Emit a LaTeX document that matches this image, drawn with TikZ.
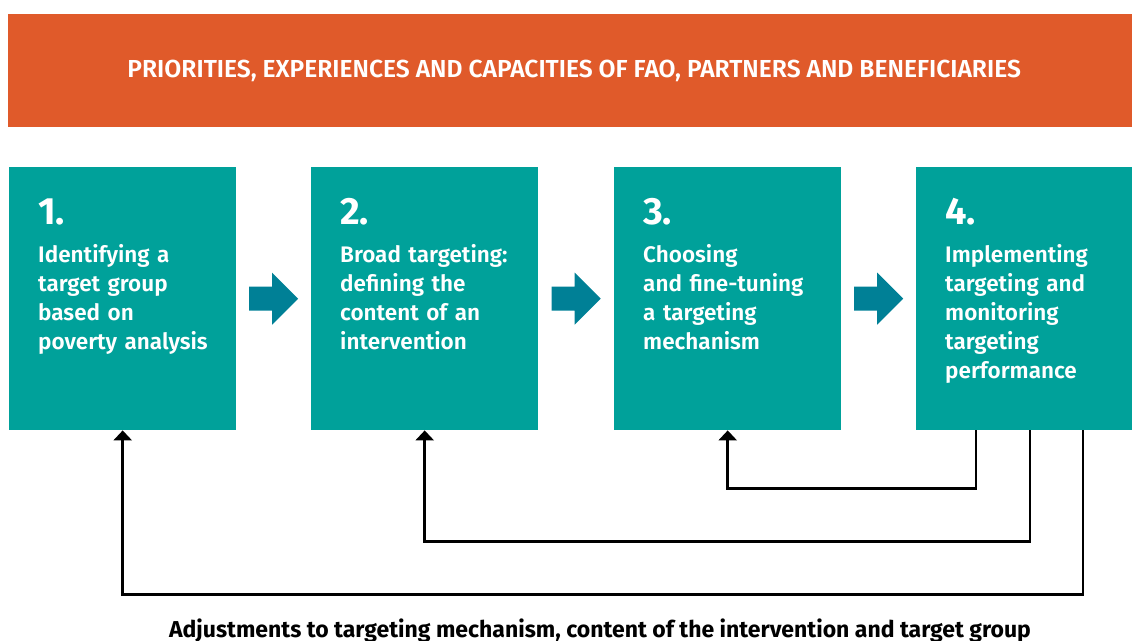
\documentclass[tikz,border=0pt]{standalone}
\usepackage{fontspec}
\setmainfont{Fira Sans}[UprightFont=* SemiBold, BoldFont=* Bold]
\usepackage{xcolor}
\usetikzlibrary{arrows.meta,calc}

\definecolor{faoOrange}{RGB}{224,90,42}
\definecolor{faoTeal}{RGB}{0,161,154}
\definecolor{faoBlue}{RGB}{0,128,150}

\begin{document}
\begin{tikzpicture}[
        %Environment config
        x=1pt, y=-1pt,
        %Environment styles
        BandCfg/.style={
            fill=faoOrange, text=white, anchor=north west,
            minimum width=1132pt, minimum height=113pt, inner sep=0pt,
            font=\fontsize{24.6}{28}\selectfont
        },
        BoxCfg/.style={
            fill=faoTeal, anchor=north west,
            minimum width=227pt, minimum height=263pt, inner sep=0pt
        },
        NumCfg/.style={
            text=white, anchor=base west, inner sep=0pt,
            font=\fontsize{38}{40}\bfseries
        },
        TxtCfg/.style={
            text=white, anchor=base west, inner sep=0pt,
            text width=195pt, align=left,
            font=\fontsize{22.5}{29}\selectfont
        },
        StepArrowCfg/.style={fill=faoBlue},
        FeedbackCfg/.style={
            line width=2.6pt, -{Triangle[width=18pt,length=10pt]}
        }
    ]
    \useasboundingbox (0,0) rectangle (1132,640);

    %Top band
    \path (8,14) node[BandCfg](band){PRIORITIES, EXPERIENCES AND CAPACITIES OF FAO, PARTNERS AND BENEFICIARIES};

    %Step boxes
    \path
        (9,167) node[BoxCfg](b1){}
        (311,167) node[BoxCfg](b2){}
        (614,167) node[BoxCfg](b3){}
        (916,167) node[BoxCfg](b4){};

    \foreach \b/\n/\t in {
            b1/1./{Identifying a\\target group\\based on\\poverty analysis},
            b2/2./{Broad targeting:\\defining the\\content of an\\intervention},
            b3/3./{Choosing\\and fine-tuning\\a targeting\\mechanism},
            b4/4./{Implementing\\targeting and\\monitoring\\targeting\\performance}}{
        \path
            ($(\b.north west)+(29,57)$) node[NumCfg](\b num){\n}
            ($(\b.north west)+(29,95)$) node[TxtCfg](\b txt){\t};
    }

    %Block arrows between the steps
    \foreach \a/\b in {b1/b2,b2/b3,b3/b4}{
        \fill[StepArrowCfg] ($(\a.east)!0.5!(\b.west)$)
            ++(-24.5,-12) -- ++(23,0) -- ++(0,-14) -- ++(26,26)
            -- ++(-26,26) -- ++(0,-14) -- ++(-23,0) -- cycle;
    }

    %Feedback loops
    \draw[FeedbackCfg] ([xshift=60pt]b4.south west) -- ++(0,58) -| (b3.south);
    \draw[FeedbackCfg] ([xshift=114pt]b4.south west) -- ++(0,111) -| (b2.south);
    \draw[FeedbackCfg] ([xshift=167pt]b4.south west) -- ++(0,164) -| (b1.south);

    \path (600,637) node[anchor=base, inner sep=0pt, font=\fontsize{23}{26}\bfseries](adj)
        {Adjustments to targeting mechanism, content of the intervention and target group};
\end{tikzpicture}
\end{document}
